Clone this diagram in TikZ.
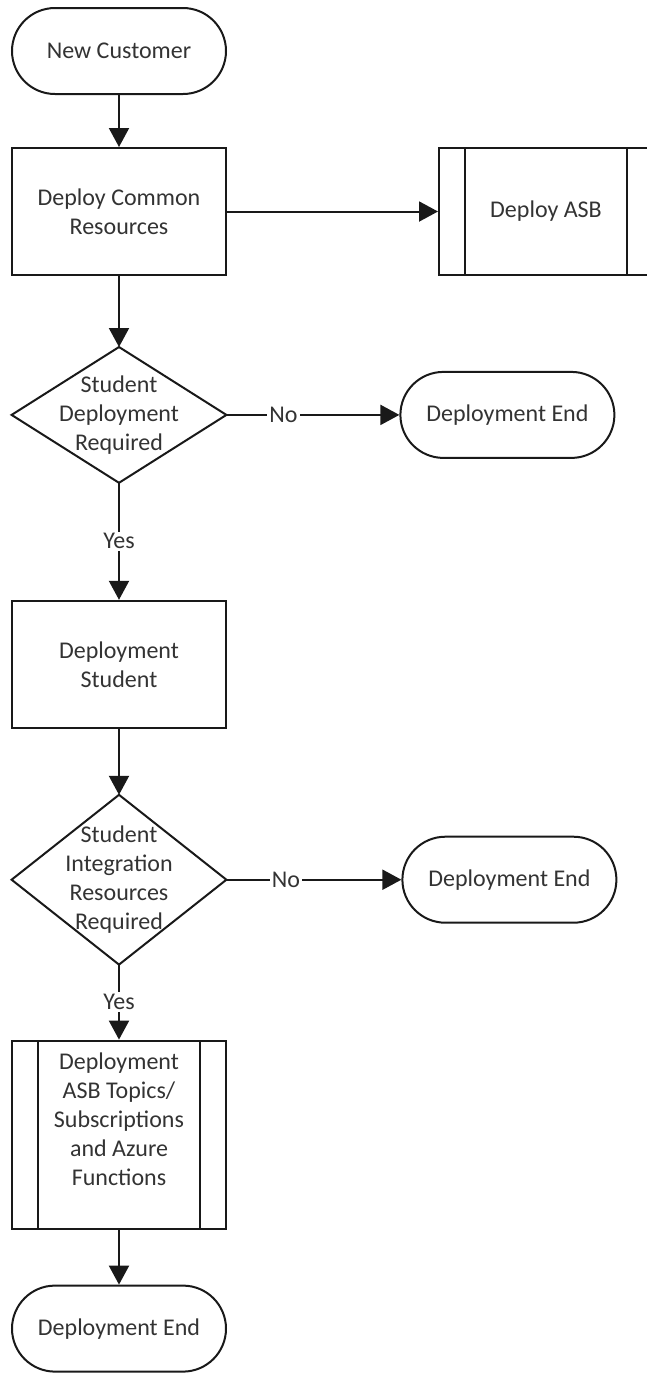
\documentclass[tikz,border=0pt]{standalone}
\usepackage{fontspec}
\setmainfont{Carlito}
\usepackage{tikz}
\usetikzlibrary{positioning, arrows.meta}

\begin{document}
\begin{tikzpicture}[
    x=1pt, y=1pt,
    node distance=27pt,
    every node/.style={font=\fontsize{12}{14.5}\selectfont, text=black!80},
    term/.style={rectangle, draw=black!90, line width=1pt, rounded corners=21.5pt,
                 minimum width=107pt, minimum height=43pt, align=center},
    proc/.style={rectangle, draw=black!90, line width=1pt, minimum width=107pt,
                 minimum height=63.5pt, align=center},
    subproc/.style={proc, path picture={
        \draw[black!90, line width=1pt]
          ([xshift=13pt]path picture bounding box.north west) -- ([xshift=13pt]path picture bounding box.south west)
          ([xshift=-13pt]path picture bounding box.north east) -- ([xshift=-13pt]path picture bounding box.south east);}},
    decision/.style={rectangle, minimum width=107pt, minimum height=67.5pt,
                     align=center, inner sep=0pt},
    arrow/.style={-{Triangle[length=9.5pt, width=10pt]}, line width=1pt, draw=black!90},
    lbl/.style={fill=white, inner sep=1pt},
  ]
    \useasboundingbox (0,0) rectangle (323.5,-686.5);

    % main column
    \node[term] (cust) at (59.5,-25.5) {New Customer};
    \node[proc, below=26pt of cust] (common) {Deploy Common\\Resources};
    \node[decision, below=35.5pt of common] (d1) {Student\\Deployment\\Required};
    \node[proc, below=58.5pt of d1] (student) {Deployment\\Student};
    \node[decision, minimum height=84.5pt, below=33pt of student] (d2)
      {Student\\Integration\\Resources\\Required};
    \node[subproc, minimum height=94pt, below=37.5pt of d2] (topics)
      {Deployment\\ASB Topics/\\Subscriptions\\and Azure\\Functions\rule[-15pt]{0pt}{15pt}};
    \node[term, below=27.5pt of topics] (end3) {Deployment End};

    % right side
    \node[subproc, right=105.5pt of common] (asb) {Deploy ASB};
    \node[term, right=86.5pt of d1] (end1) {Deployment End};
    \node[term, right=87.5pt of d2] (end2) {Deployment End};

    % diamond outlines
    \foreach \d in {d1,d2}
      \draw[black!90, line width=1pt] (\d.north) -- (\d.east) -- (\d.south) -- (\d.west) -- cycle;

    \draw[arrow] (cust) -- (common);
    \draw[arrow] (common) -- (asb);
    \draw[arrow] (common) -- (d1);
    \draw[arrow] (d1) -- node[lbl, pos=0.33] {No} (end1);
    \draw[arrow] (d1) -- node[lbl] {Yes} (student);
    \draw[arrow] (student) -- (d2);
    \draw[arrow] (d2) -- node[lbl, pos=0.34] {No} (end2);
    \draw[arrow] (d2) -- node[lbl] {Yes} (topics);
    \draw[arrow] (topics) -- (end3);
  \end{tikzpicture}
\end{document}
